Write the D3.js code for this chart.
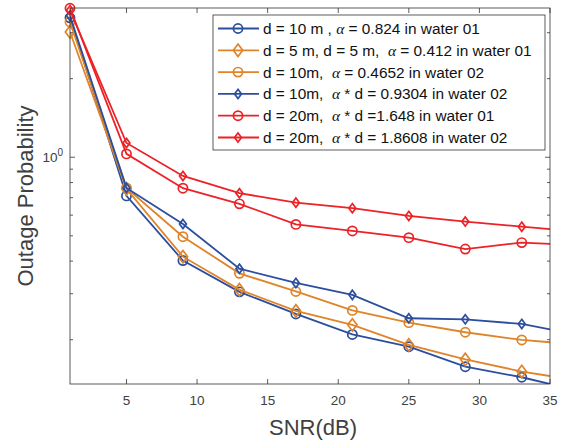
<!DOCTYPE html>
<html>
<head>
<meta charset="utf-8">
<script src="https://cdn.jsdelivr.net/npm/d3@7"></script>
<style>
  body { margin: 0; background: #fff; }
  text { font-family: "Liberation Sans", Arial, sans-serif; white-space: pre; }
</style>
</head>
<body>
<div id="chart"></div>
<script>
// data
const snr = [1, 5, 9, 13, 17, 21, 25, 29, 33, 35];
const markerAt = [1, 5, 9, 13, 17, 21, 25, 29, 33];

const blueCircle   = [3.42, 0.711, 0.402, 0.305, 0.251, 0.2095, 0.188, 0.1576, 0.1436, 0.1353];
const orangeDiam   = [3.02, 0.757, 0.416, 0.311, 0.258, 0.228, 0.191, 0.168, 0.151, 0.1452];
const orangeCircle = [3.30, 0.763, 0.496, 0.359, 0.306, 0.259, 0.2324, 0.2136, 0.1995, 0.1955];
const blueDiam     = [3.48, 0.763, 0.555, 0.374, 0.330, 0.297, 0.2416, 0.2394, 0.2298, 0.219];
const redCircle    = [3.72, 1.03, 0.761, 0.663, 0.553, 0.522, 0.492, 0.445, 0.471, 0.4655];
const redDiam      = [3.66, 1.134, 0.848, 0.728, 0.670, 0.638, 0.596, 0.567, 0.542, 0.530];

const labels = [
  ["d = 10 m , ", " = 0.824 in water 01"],
  ["d = 5 m, d = 5 m,  ", " = 0.412 in water 01"],
  ["d = 10m,  ", " = 0.4652 in water 02"],
  ["d = 10m,  ", " * d = 0.9304 in water 02"],
  ["d = 20m,  ", " * d =1.648 in water 01"],
  ["d = 20m,  ", " * d = 1.8608 in water 02"]
];

const xTicks = [5, 10, 15, 20, 25, 30, 35];
const yMinor = [0.2, 0.3, 0.4, 0.5, 0.6, 0.7, 0.8, 0.9, 2, 3];

const blue = "#2c4e9e", orange = "#df8428", red = "#ec2227";

const series = [
  { vals: blueCircle,   color: blue,   marker: "circle",  size: 4.6 },
  { vals: orangeDiam,   color: orange, marker: "diamond", size: 6.2 },
  { vals: orangeCircle, color: orange, marker: "circle",  size: 4.6 },
  { vals: blueDiam,     color: blue,   marker: "diamond", size: 4.6 },
  { vals: redCircle,    color: red,    marker: "circle",  size: 4.6 },
  { vals: redDiam,      color: red,    marker: "diamond", size: 4.6 }
];

const W = 564, H = 443;
const pLeft = 70, pRight = 550, pTop = 8, pBottom = 384;
const axisCol = "#333", textCol = "#404040";

let svg = d3.select("#chart").append("svg")
    .attr("width", W).attr("height", H);

let x = d3.scaleLinear().domain([1, 35]).range([pLeft, pRight]);
let y = d3.scaleLog().domain([0.1353, 3.73]).range([pBottom, pTop]);

// clip for lines
svg.append("defs").append("clipPath").attr("id", "clip")
  .append("rect").attr("x", pLeft).attr("y", pTop - 6)
  .attr("width", pRight - pLeft).attr("height", pBottom - pTop + 6);

let plot = svg.append("g");

function drawMarker(g, type, cx, cy, s, color) {
  if (type === "circle") {
    g.append("circle").attr("cx", cx).attr("cy", cy).attr("r", s)
      .attr("fill", "none").attr("stroke", color).attr("stroke-width", 1.7);
  } else {
    let w = s * 0.75;
    g.append("path")
      .attr("d", `M${cx},${cy - s}L${cx + w},${cy}L${cx},${cy + s}L${cx - w},${cy}Z`)
      .attr("fill", "none").attr("stroke", color).attr("stroke-width", 1.7);
  }
}

let line = d3.line().x(d => x(d[0])).y(d => y(d[1]));

series.forEach(s => {
  let pts = snr.map((v, i) => [v, s.vals[i]]);
  plot.append("path").datum(pts)
    .attr("d", line)
    .attr("fill", "none")
    .attr("stroke", s.color)
    .attr("stroke-width", 1.8)
    .attr("clip-path", "url(#clip)");
  pts.forEach(p => {
    if (markerAt.includes(p[0])) drawMarker(plot, s.marker, x(p[0]), y(p[1]), s.size, s.color);
  });
});

// axes box
let ax = svg.append("g");
ax.append("rect").attr("x", pLeft).attr("y", pTop)
  .attr("width", pRight - pLeft).attr("height", pBottom - pTop)
  .attr("fill", "none").attr("stroke", axisCol).attr("stroke-width", 0.8);

// x ticks (inward, bottom and top)
xTicks.forEach(t => {
  ax.append("line").attr("x1", x(t)).attr("x2", x(t)).attr("y1", pBottom).attr("y2", pBottom - 5)
    .attr("stroke", axisCol).attr("stroke-width", 0.8);
  ax.append("line").attr("x1", x(t)).attr("x2", x(t)).attr("y1", pTop).attr("y2", pTop + 5)
    .attr("stroke", axisCol).attr("stroke-width", 0.8);
  ax.append("text").attr("x", x(t)).attr("y", pBottom + 21)
    .attr("text-anchor", "middle").attr("font-size", 13.5).attr("fill", textCol).text(t);
});

// y ticks
yMinor.forEach(t => {
  [[pLeft, pLeft + 3], [pRight, pRight - 3]].forEach(([a, b]) => {
    ax.append("line").attr("x1", a).attr("x2", b).attr("y1", y(t)).attr("y2", y(t))
      .attr("stroke", axisCol).attr("stroke-width", 0.8);
  });
});
[[pLeft, pLeft + 5], [pRight, pRight - 5]].forEach(([a, b]) => {
  ax.append("line").attr("x1", a).attr("x2", b).attr("y1", y(1)).attr("y2", y(1))
    .attr("stroke", axisCol).attr("stroke-width", 0.8);
});
let yl = ax.append("text").attr("x", 63).attr("y", y(1) + 5)
  .attr("text-anchor", "end").attr("font-size", 13.5).attr("fill", textCol);
yl.append("tspan").text("10");
yl.append("tspan").attr("dy", -6).attr("font-size", 10).text("0");

// axis labels
svg.append("text").attr("x", 313).attr("y", 435)
  .attr("text-anchor", "middle").attr("font-size", 22).attr("fill", textCol).text("SNR(dB)");
svg.append("text").attr("transform", `translate(33,${(pTop + pBottom) / 2}) rotate(-90)`)
  .attr("text-anchor", "middle").attr("font-size", 22).attr("fill", textCol).text("Outage Probability");

// legend
let lg = svg.append("g");
lg.append("rect").attr("x", 213).attr("y", 15).attr("width", 332).attr("height", 135)
  .attr("fill", "#fff").attr("stroke", axisCol).attr("stroke-width", 0.8);
series.forEach((s, i) => {
  let ly = 28.5 + i * 21.8;
  lg.append("line").attr("x1", 218).attr("x2", 259).attr("y1", ly).attr("y2", ly)
    .attr("stroke", s.color).attr("stroke-width", 1.8);
  drawMarker(lg, s.marker, 238, ly, s.size, s.color);
  let t = lg.append("text").attr("x", 263).attr("y", ly + 5.5)
    .attr("font-size", 15.4).attr("fill", "#111");
  t.append("tspan").text(labels[i][0]);
  t.append("tspan").attr("font-family", "'Liberation Serif', serif").attr("font-style", "italic").text("\u03b1");
  t.append("tspan").text(labels[i][1]);
});
</script>
</body>
</html>
